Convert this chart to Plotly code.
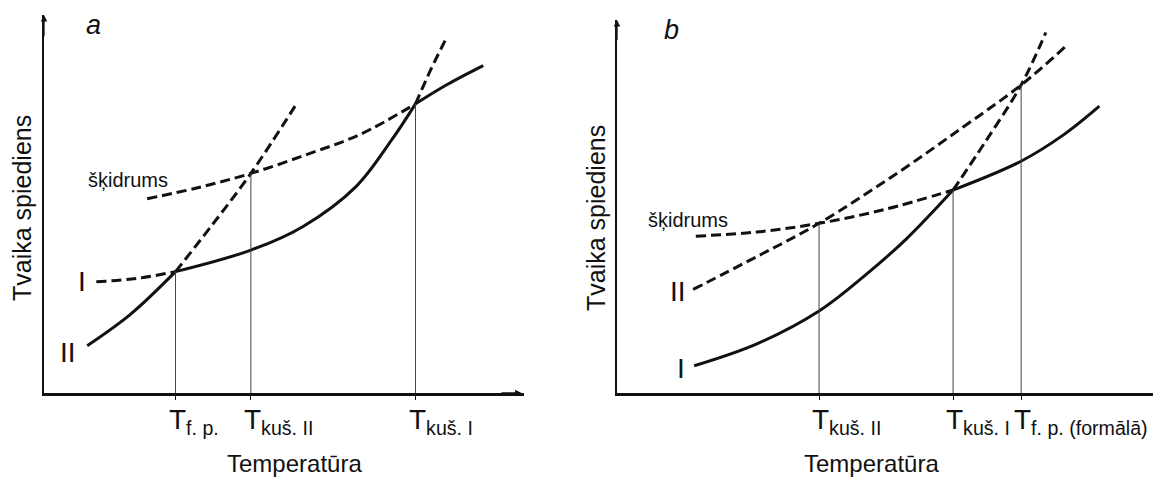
import plotly.graph_objects as go

W, H = 1153, 478
FONT = "Liberation Sans, Arial, sans-serif"
INK = "#111111"

# ---------------- Panel a (temperature, vapour pressure: arbitrary units) ----------------
a_tick_T = [27.4, 43.1, 77.4]
a_tick_sub = ["f. p.", "kuš. II", "kuš. I"]
a_cross_p = [32.1, 58.1, 76.5]          # pressure at each marked intersection

a_II_solid_T = [9.0, 18.0, 27.4]
a_II_solid_p = [12.5, 20.8, 32.1]
a_II_dash_T = [27.4, 35.3, 43.1, 52.3]
a_II_dash_p = [32.1, 44.9, 58.1, 75.9]

a_I_dash1_T = [10.9, 19.3, 27.4]
a_I_dash1_p = [29.4, 30.3, 32.1]
a_I_solid_T = [27.4, 43.1, 53.9, 65.0, 72.4, 77.4]
a_I_solid_p = [32.1, 37.8, 44.0, 54.6, 66.9, 76.5]
a_I_dash2_T = [77.4, 80.6, 83.9]
a_I_dash2_p = [76.5, 85.6, 94.1]

a_L_dash_T = [21.5, 32.0, 43.1, 55.0, 66.0, 77.4]
a_L_dash_p = [51.4, 54.3, 58.1, 63.2, 68.5, 76.5]
a_L_solid_T = [77.4, 84.0, 91.5]
a_L_solid_p = [76.5, 81.6, 86.6]

# ---------------- Panel b ----------------
b_tick_T = [37.7, 62.7, 75.4]
b_tick_sub = ["kuš. II", "kuš. I", "f. p. (formālā)"]
b_cross_p = [44.9, 53.7, 81.5]

b_I_solid_T = [14.4, 26.1, 37.7, 46.0, 54.0, 62.7]
b_I_solid_p = [7.2, 13.0, 21.7, 30.8, 40.8, 53.7]
b_I_dash_T = [62.7, 68.5, 75.4, 80.0]
b_I_dash_p = [53.7, 66.0, 81.5, 95.4]

b_L_dash_T = [14.7, 26.1, 37.7, 50.0, 62.7]
b_L_dash_p = [41.5, 42.6, 44.9, 48.6, 53.7]
b_L_solid_T = [62.7, 75.2, 83.3, 90.0]
b_L_solid_p = [53.7, 61.2, 68.3, 75.9]

b_II_dash_T = [14.2, 26.1, 37.7, 52.2, 64.6, 75.4, 83.6]
b_II_dash_p = [27.4, 36.1, 44.9, 58.1, 70.4, 81.5, 91.6]

# text labels
y_title = "Tvaika spiediens"
x_title = "Temperatūra"
liquid_label = "šķidrums"


def px(x):
    return x / W


def py(y):
    return 1 - y / H


fig = go.Figure()

DASH = "10px,5px"


def curve(T, p, xa, ya, dash=None):
    fig.add_trace(go.Scatter(
        x=T, y=p, mode="lines", xaxis=xa, yaxis=ya, showlegend=False,
        hoverinfo="skip",
        line=dict(color=INK, width=3, shape="spline", smoothing=1.0,
                  dash=dash if dash else "solid")))


# panel a curves
curve(a_II_solid_T, a_II_solid_p, "x", "y")
curve(a_II_dash_T, a_II_dash_p, "x", "y", DASH)
curve(a_I_dash1_T, a_I_dash1_p, "x", "y", DASH)
curve(a_I_solid_T, a_I_solid_p, "x", "y")
curve(a_I_dash2_T, a_I_dash2_p, "x", "y", DASH)
curve(a_L_dash_T, a_L_dash_p, "x", "y", DASH)
curve(a_L_solid_T, a_L_solid_p, "x", "y")

# panel b curves
curve(b_I_solid_T, b_I_solid_p, "x2", "y2")
curve(b_I_dash_T, b_I_dash_p, "x2", "y2", DASH)
curve(b_L_dash_T, b_L_dash_p, "x2", "y2", DASH)
curve(b_L_solid_T, b_L_solid_p, "x2", "y2")
curve(b_II_dash_T, b_II_dash_p, "x2", "y2", DASH)

# vertical drop lines
for T, p in zip(a_tick_T, a_cross_p):
    fig.add_trace(go.Scatter(x=[T, T], y=[0, p], mode="lines", xaxis="x", yaxis="y",
                             showlegend=False, hoverinfo="skip",
                             line=dict(color="#444444", width=1)))
for T, p in zip(b_tick_T, b_cross_p):
    fig.add_trace(go.Scatter(x=[T, T], y=[0, p], mode="lines", xaxis="x2", yaxis="y2",
                             showlegend=False, hoverinfo="skip",
                             line=dict(color="#444444", width=1)))

axis_common = dict(showgrid=False, zeroline=False, showline=True, linecolor=INK,
                   fixedrange=True)

fig.update_layout(
    width=W, height=H,
    margin=dict(l=0, r=0, t=0, b=0),
    paper_bgcolor="white", plot_bgcolor="white",
    font=dict(family=FONT, color=INK),
    xaxis=dict(domain=[px(44), px(524)], range=[0, 100], anchor="y",
               tickvals=a_tick_T, ticks="outside", ticklen=4, tickcolor=INK,
               showticklabels=False, linewidth=2.5, **axis_common),
    yaxis=dict(domain=[py(393), py(15)], range=[0, 100], anchor="x",
               showticklabels=False, ticks="", linewidth=1.5, **axis_common),
    xaxis2=dict(domain=[px(617), 1.0], range=[0, 100], anchor="y2",
                tickvals=b_tick_T, ticks="outside", ticklen=4, tickcolor=INK,
                showticklabels=False, linewidth=2.5, **axis_common),
    yaxis2=dict(domain=[py(393), py(20)], range=[0, 98.7], anchor="x2",
                showticklabels=False, ticks="", linewidth=1.5, **axis_common),
)

ann = []


def arrow(xref, yref, x, y, axv, ayv):
    ann.append(dict(xref=xref, yref=yref, axref=xref, ayref=yref, x=x, y=y, ax=axv, ay=ayv,
                    text="", showarrow=True, arrowhead=2, arrowsize=1, arrowwidth=1.3,
                    arrowcolor=INK))


# axis arrowheads
arrow("x", "y", 0, 100, 0, 94)
arrow("x", "y", 99.5, 0, 95, 0)
arrow("x2", "y2", 0, 98.7, 0, 93)


# tick labels: big T centred on tick + subscript
def tick_labels(xref, Ts, subs):
    for T, s in zip(Ts, subs):
        ann.append(dict(xref=xref, yref="paper", x=T, y=py(421), xanchor="left",
                        yanchor="middle", xshift=-9, showarrow=False,
                        text=f"T<sub>{s}</sub>",
                        font=dict(size=28, family=FONT, color=INK)))


tick_labels("x", a_tick_T, a_tick_sub)
tick_labels("x2", b_tick_T, b_tick_sub)

# axis titles
for xc, yc in [(22, 208), (596, 218)]:
    ann.append(dict(xref="paper", yref="paper", x=px(xc), y=py(yc), text=y_title,
                    textangle=-90, showarrow=False, xanchor="center", yanchor="middle",
                    font=dict(size=25, family=FONT, color=INK)))
for xc in [294.6, 871]:
    ann.append(dict(xref="paper", yref="paper", x=px(xc), y=py(463), text=x_title,
                    showarrow=False, xanchor="center", yanchor="middle",
                    font=dict(size=24, family=FONT, color=INK)))


# in-plot labels
def label(xref, yref, x, y, t, size, italic=False):
    ann.append(dict(xref=xref, yref=yref, x=x, y=y, text=f"<i>{t}</i>" if italic else t,
                    showarrow=False, xanchor="center", yanchor="middle",
                    font=dict(size=size, family=FONT, color=INK)))


label("x", "y", 10.3, 97.4, "a", 27, italic=True)
label("x", "y", 17.4, 56.3, liquid_label, 20)
label("x", "y", 8.0, 29.4, "I", 28)
label("x", "y", 4.9, 10.8, "II", 28)

label("x2", "y2", 10.2, 96.0, "b", 27, italic=True)
label("x2", "y2", 13.2, 45.8, liquid_label, 20)
label("x2", "y2", 11.3, 26.8, "II", 28)
label("x2", "y2", 11.9, 6.5, "I", 28)

fig.update_layout(annotations=ann)

fig.write_html("out.html")
